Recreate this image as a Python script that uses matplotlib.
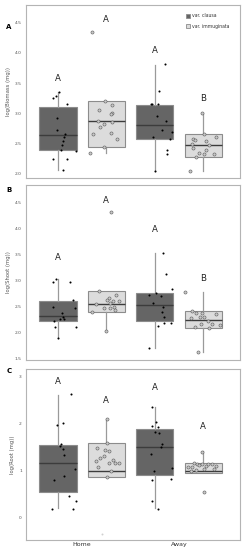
import matplotlib
matplotlib.use("Agg")
import matplotlib.pyplot as plt
from matplotlib.patches import Patch

GROUPS = ["Home", "Away"]
VARIETIES = ["var. clausa", "var. immuginata"]

# order of boxes: Home/clausa, Home/immuginata, Away/clausa, Away/immuginata
# ── A: biomass ─────────────────────────────────────────────
biomass_vals = [
    [3.25, 3.28, 3.35, 3.15, 2.92, 2.73, 2.66, 2.60, 2.54, 2.47, 2.40, 2.38, 2.24, 2.25, 2.07],
    [4.35, 3.20, 3.14, 3.06, 3.01, 2.99, 2.88, 2.86, 2.83, 2.77, 2.65, 2.67, 2.58, 2.45, 2.34],
    [3.81, 3.37, 3.15, 3.15, 3.15, 2.96, 2.87, 2.73, 2.69, 2.60, 2.58, 2.40, 2.32, 2.04],
    [3.01, 2.66, 2.60, 2.58, 2.56, 2.54, 2.47, 2.50, 2.42, 2.40, 2.34, 2.32, 2.32, 2.28, 2.05],
]
biomass_jit = [
    [-0.055, -0.024, 0.007, 0.09, -0.014, -0.007, 0.076, 0.062, 0.055, 0.045, 0.031, 0.186, -0.055, 0.09, 0.055],
    [-0.151, -0.013, 0.062, -0.079, 0.059, 0.045, -0.089, 0.056, -0.024, -0.062, -0.138, 0.045, 0.108, -0.027, -0.166],
    [0.103, 0.041, -0.041, -0.025, 0.037, 0.021, 0.117, 0.072, 0.179, -0.014, 0.161, 0.124, 0.124, 0.003],
    [-0.010, 0.007, 0.131, -0.107, -0.080, 0.031, 0.055, -0.117, -0.103, 0.028, -0.044, 0.010, 0.111, -0.072, -0.138],
]
biomass_lo = [2.07, 2.34, 2.04, 2.04]
biomass_q1 = [2.40, 2.45, 2.58, 2.28]
biomass_med = [2.64, 2.88, 2.80, 2.47]
biomass_q3 = [3.10, 3.20, 3.14, 2.66]
biomass_hi = [3.35, 3.20, 3.80, 3.01]
biomass_letters = ["A", "A", "A", "B"]
biomass_letter_y = [3.58, 4.55, 4.03, 3.24]

# ── B: shoot ───────────────────────────────────────────────
shoot_vals = [
    [3.03, 2.96, 2.97, 2.62, 2.46, 2.49, 2.37, 2.29, 2.26, 2.21, 2.25, 2.11, 2.10, 1.90],
    [4.31, 2.79, 2.71, 2.67, 2.62, 2.60, 2.60, 2.57, 2.54, 2.49, 2.47, 2.47, 2.43, 2.39, 2.03],
    [3.53, 3.13, 2.84, 2.72, 2.76, 2.69, 2.56, 2.49, 2.40, 2.29, 2.19, 2.18, 2.12, 1.71],
    [2.78, 2.41, 2.37, 2.37, 2.35, 2.27, 2.29, 2.29, 2.22, 2.17, 2.16, 2.15, 2.11, 2.08, 1.62],
]
shoot_jit = [
    [-0.024, -0.052, 0.127, 0.158, 0.173, -0.055, 0.038, 0.055, 0.018, -0.038, 0.059, -0.028, 0.183, -0.003],
    [0.052, -0.072, 0.1, 0.028, 0.010, 0.069, 0.131, 0.038, -0.103, 0.083, -0.027, 0.035, 0.093, -0.151, -0.006],
    [0.083, 0.117, 0.179, -0.059, 0.010, 0.062, -0.014, 0.083, 0.072, 0.099, 0.093, 0.166, 0.031, -0.056],
    [-0.183, -0.114, -0.076, -0.010, 0.127, -0.124, -0.031, 0.007, 0.049, -0.021, 0.093, 0.169, -0.083, 0.062, -0.055],
]
shoot_lo = [1.90, 2.03, 1.71, 1.62]
shoot_q1 = [2.22, 2.39, 2.22, 2.08]
shoot_med = [2.32, 2.55, 2.52, 2.23]
shoot_q3 = [2.60, 2.79, 2.75, 2.41]
shoot_hi = [3.03, 2.79, 3.53, 2.78]
shoot_letters = ["A", "A", "A", "B"]
shoot_letter_y = [3.44, 4.53, 3.97, 3.03]

# ── C: root ────────────────────────────────────────────────
root_vals = [
    [2.63, 1.96, 2.00, 1.56, 1.52, 1.45, 1.33, 1.03, 0.88, 0.79, 0.47, 0.35, 0.19, 0.19],
    [2.10, 1.59, 1.47, 1.43, 1.42, 1.26, 1.31, 1.20, 1.23, 1.17, 1.15, 1.17, 1.08, 0.99, 0.87],
    [2.34, 2.03, 1.94, 1.93, 1.82, 1.80, 1.56, 1.50, 1.35, 0.99, 1.06, 0.83, 0.79, 0.35, 0.19],
    [1.40, 0.54, 1.16, 1.08, 1.14, 1.12, 1.13, 1.09, 1.13, 1.14, 1.09, 1.08, 0.99, 1.02, 1.03, 1.04],
]
root_jit = [
    [0.134, -0.014, 0.052, 0.034, 0.024, 0.052, 0.066, 0.176, 0.062, -0.041, 0.110, 0.183, -0.059, 0.159],
    [0.007, 0.010, -0.097, -0.014, 0.024, -0.069, -0.021, -0.110, 0.066, 0.028, 0.086, 0.134, -0.083, 0.048, 0.003],
    [-0.031, 0.010, -0.024, 0.031, 0.003, 0.041, 0.079, 0.066, -0.034, -0.007, 0.179, 0.172, -0.031, -0.024, 0.031],
    [-0.017, 0.010, -0.090, -0.114, -0.062, -0.041, -0.010, 0.024, 0.045, 0.090, 0.134, -0.159, -0.124, -0.072, 0.007, 0.107],
]
root_lo = [0.20, 0.87, 0.20, 0.95]
root_q1 = [0.55, 0.87, 0.91, 0.95]
root_med = [1.17, 0.99, 1.50, 0.99]
root_q3 = [1.55, 1.59, 1.89, 1.16]
root_hi = [2.61, 2.10, 2.34, 1.41]
root_letters = ["A", "A", "A", "A"]
root_letter_y = [2.89, 2.48, 2.75, 1.94]
root_faint_outlier = -0.35  # Home / immuginata

DARK = "#656565"
LIGHT = "#dcdcdc"
EDGE = "#8c8c8c"
WHISK = "#9a9a9a"
MED = "#3c3c3c"
FRAME = "#b4b4b4"
TXT = "#555555"

OFFSET = 0.25
BOX_W = 0.385
positions = [1 - OFFSET, 1 + OFFSET, 2 - OFFSET, 2 + OFFSET]
fills = [DARK, LIGHT, DARK, LIGHT]

fig = plt.figure(figsize=(2.42, 5.5), dpi=100)
L, W = 26 / 242, 214 / 242
ax_a = fig.add_axes([L, 1 - 178 / 550, W, 173 / 550])
ax_b = fig.add_axes([L, 1 - 360 / 550, W, 175 / 550])
ax_c = fig.add_axes([L, 1 - 540 / 550, W, 171 / 550])

panels = [
    (ax_a, biomass_vals, biomass_jit, biomass_lo, biomass_q1, biomass_med, biomass_q3, biomass_hi,
     biomass_letters, biomass_letter_y, "log(Biomass (mg))", (1.93, 4.79), [2.0, 2.5, 3.0, 3.5, 4.0, 4.5], "A", 27),
    (ax_b, shoot_vals, shoot_jit, shoot_lo, shoot_q1, shoot_med, shoot_q3, shoot_hi,
     shoot_letters, shoot_letter_y, "log(Shoot (mg))", (1.47, 4.83), [1.5, 2.0, 2.5, 3.0, 3.5, 4.0, 4.5], "B", 190),
    (ax_c, root_vals, root_jit, root_lo, root_q1, root_med, root_q3, root_hi,
     root_letters, root_letter_y, "log(Root (mg))", (-0.47, 3.15), [0, 1, 2, 3], "C", 371),
]

for (ax, vals, jit, lo, q1, med, q3, hi, letters, letter_y, ylab, ylim, yticks, tag, tag_y) in panels:
    stats = [dict(whislo=lo[i], q1=q1[i], med=med[i], q3=q3[i], whishi=hi[i], fliers=[])
             for i in range(4)]
    bp = ax.bxp(stats, positions=positions, widths=BOX_W, patch_artist=True,
                showcaps=False, showfliers=False,
                boxprops=dict(edgecolor=EDGE, linewidth=0.8),
                whiskerprops=dict(color=WHISK, linewidth=0.9),
                medianprops=dict(color=MED, linewidth=1.0))
    for patch, c in zip(bp["boxes"], fills):
        patch.set_facecolor(c)

    for i in range(4):
        xs = [positions[i] + d for d in jit[i]]
        if i % 2 == 0:
            ax.scatter(xs, vals[i], s=2.2, color="black", zorder=4, linewidths=0)
        else:
            ax.scatter(xs, vals[i], s=5, facecolor="#c8c8c8", edgecolor="#5a5a5a",
                       linewidths=0.4, zorder=4)
        ax.text(positions[i], letter_y[i], letters[i], ha="center", va="center",
                fontsize=6.2, color="#222222")

    ax.set_xlim(0.42, 2.63)
    ax.set_ylim(*ylim)
    ax.set_yticks(yticks)
    if tag == "C":
        ax.set_yticklabels([str(t) for t in yticks])
        ax.set_xticks([1, 2])
        ax.set_xticklabels(GROUPS, fontsize=4.5, color="#333333")
    else:
        ax.set_yticklabels([f"{t:.1f}" for t in yticks])
        ax.set_xticks([])
    ax.tick_params(axis="y", length=0, pad=3, labelsize=3.2, labelcolor=TXT)
    ax.tick_params(axis="x", length=0, pad=1.5)
    ax.set_ylabel(ylab, fontsize=3.8, color=TXT, labelpad=3)
    for sp in ax.spines.values():
        sp.set_color(FRAME)
        sp.set_linewidth(0.8)
    fig.text(9 / 242, 1 - tag_y / 550, tag, fontsize=5, fontweight="bold",
             ha="center", va="center")

# faint outlier below the Home / immuginata root box
ax_c.scatter([positions[1] - 0.048], [root_faint_outlier], s=2, color="#d0d0d0",
             linewidths=0, zorder=3)

handles = [Patch(facecolor=DARK, edgecolor=EDGE, linewidth=0.6),
           Patch(facecolor=LIGHT, edgecolor=EDGE, linewidth=0.6)]
ax_a.legend(handles, VARIETIES, loc="upper right", bbox_to_anchor=(0.965, 0.97),
            fontsize=3.3, frameon=False, handlelength=0.95, handleheight=0.95,
            handletextpad=0.45, labelspacing=1.15, labelcolor="#333333",
            borderaxespad=0.3)

fig.savefig("out.png", dpi=100)
